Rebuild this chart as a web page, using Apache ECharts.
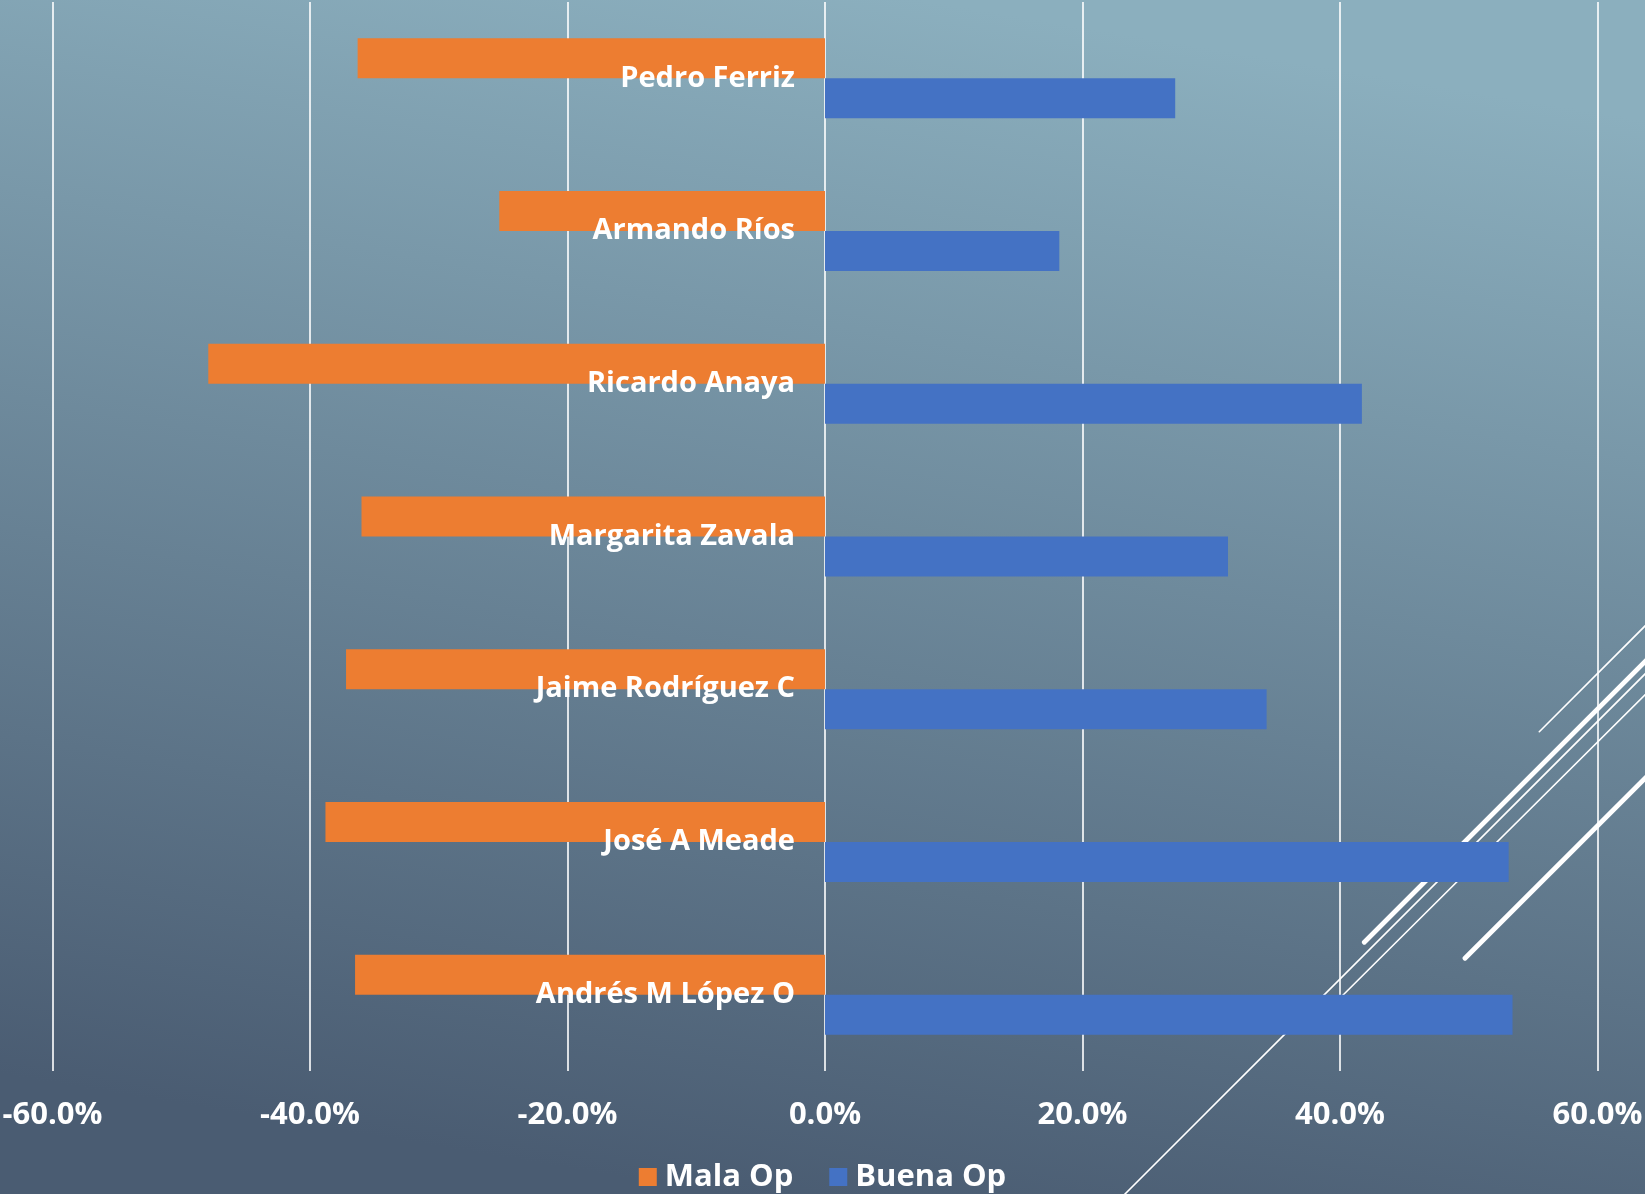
<!DOCTYPE html>
<html>
<head>
<meta charset="utf-8">
<script src="https://cdn.jsdelivr.net/npm/echarts@6/dist/echarts.min.js"></script>
<style>
html,body{margin:0;padding:0;overflow:hidden;}
#chart{width:1645px;height:1194px;}
</style>
</head>
<body>
<div id="chart"></div>
<script>
const categories = ['Pedro Ferriz', 'Armando Ríos', 'Ricardo Anaya', 'Margarita Zavala', 'Jaime Rodríguez C', 'José A Meade', 'Andrés M López O'];
const malaOp = [-36.3, -25.3, -47.9, -36.0, -37.2, -38.8, -36.5];
const buenaOp = [27.2, 18.2, 41.7, 31.3, 34.3, 53.1, 53.4];
const seriesNames = ['Mala Op', 'Buena Op'];
const xTicks = [-60, -40, -20, 0, 20, 40, 60];

const chart = echarts.init(document.getElementById('chart'), null, {renderer: 'canvas'});
const FONT = '"Open Sans", "DejaVu Sans", sans-serif';

const GRID_LEFT = 52.5, GRID_RIGHT = 47.5;
const gridWidth = 1645 - GRID_LEFT - GRID_RIGHT;

const deco = [
  {x1: 1539.3, y1: 731.7, x2: 1650, y2: 621, w: 1.6},
  {x1: 1364.3, y1: 942.3, x2: 1650, y2: 656.6, w: 4.8},
  {x1: 1120, y1: 1199, x2: 1650, y2: 669, w: 1.6},
  {x1: 1330, y1: 1008, x2: 1650, y2: 690, w: 1.6},
  {x1: 1465, y1: 958.3, x2: 1650, y2: 773.3, w: 4.8}
];

chart.setOption({
  backgroundColor: {
    type: 'linear', x: 0.56, y: 0, x2: 0.44, y2: 1,
    colorStops: [{offset: 0, color: '#8BAFBE'}, {offset: 1, color: '#4A5C72'}]
  },
  textStyle: {fontFamily: FONT},
  animation: false,
  graphic: deco.map(d => ({
    type: 'line', z: 1, silent: true,
    shape: {x1: d.x1, y1: d.y1, x2: d.x2, y2: d.y2},
    style: {stroke: '#ffffff', lineWidth: d.w, lineCap: 'round'}
  })),
  grid: {left: GRID_LEFT, right: GRID_RIGHT, top: 2, bottom: 123, containLabel: false, outerBoundsMode: 'none'},
  legend: {
    data: seriesNames,
    left: 'center',
    top: 1156,
    itemWidth: 18,
    itemHeight: 18,
    itemGap: 36,
    icon: 'rect',
    textStyle: {color: '#ffffff', fontSize: 31, fontWeight: 'bold', fontFamily: FONT, lineHeight: 32, padding: [0, 0, 0, 3]}
  },
  xAxis: {
    type: 'value',
    min: xTicks[0],
    max: xTicks[xTicks.length - 1],
    interval: xTicks[1] - xTicks[0],
    axisLine: {show: false},
    axisTick: {show: false},
    splitLine: {show: true, lineStyle: {color: '#ffffff', width: 1.6}},
    axisLabel: {
      color: '#ffffff', fontSize: 31, fontWeight: 'bold', fontFamily: FONT, margin: 29,
      formatter: v => v.toFixed(1) + '%'
    }
  },
  yAxis: {
    type: 'category',
    data: categories,
    inverse: true,
    z: 10,
    position: 'left',
    offset: -gridWidth / 2,
    axisLine: {show: false, onZero: false},
    axisTick: {show: false},
    splitLine: {show: false},
    axisLabel: {color: '#ffffff', fontSize: 29, fontWeight: 'bold', fontFamily: FONT, margin: 30, padding: [5, 0, 0, 0]}
  },
  series: [
    {name: seriesNames[0], type: 'bar', data: malaOp, barWidth: 40, barGap: '0%', itemStyle: {color: '#ED7D31'}, z: 3},
    {name: seriesNames[1], type: 'bar', data: buenaOp, barWidth: 40, barGap: '0%', itemStyle: {color: '#4472C4'}, z: 3}
  ]
});
</script>
</body>
</html>
